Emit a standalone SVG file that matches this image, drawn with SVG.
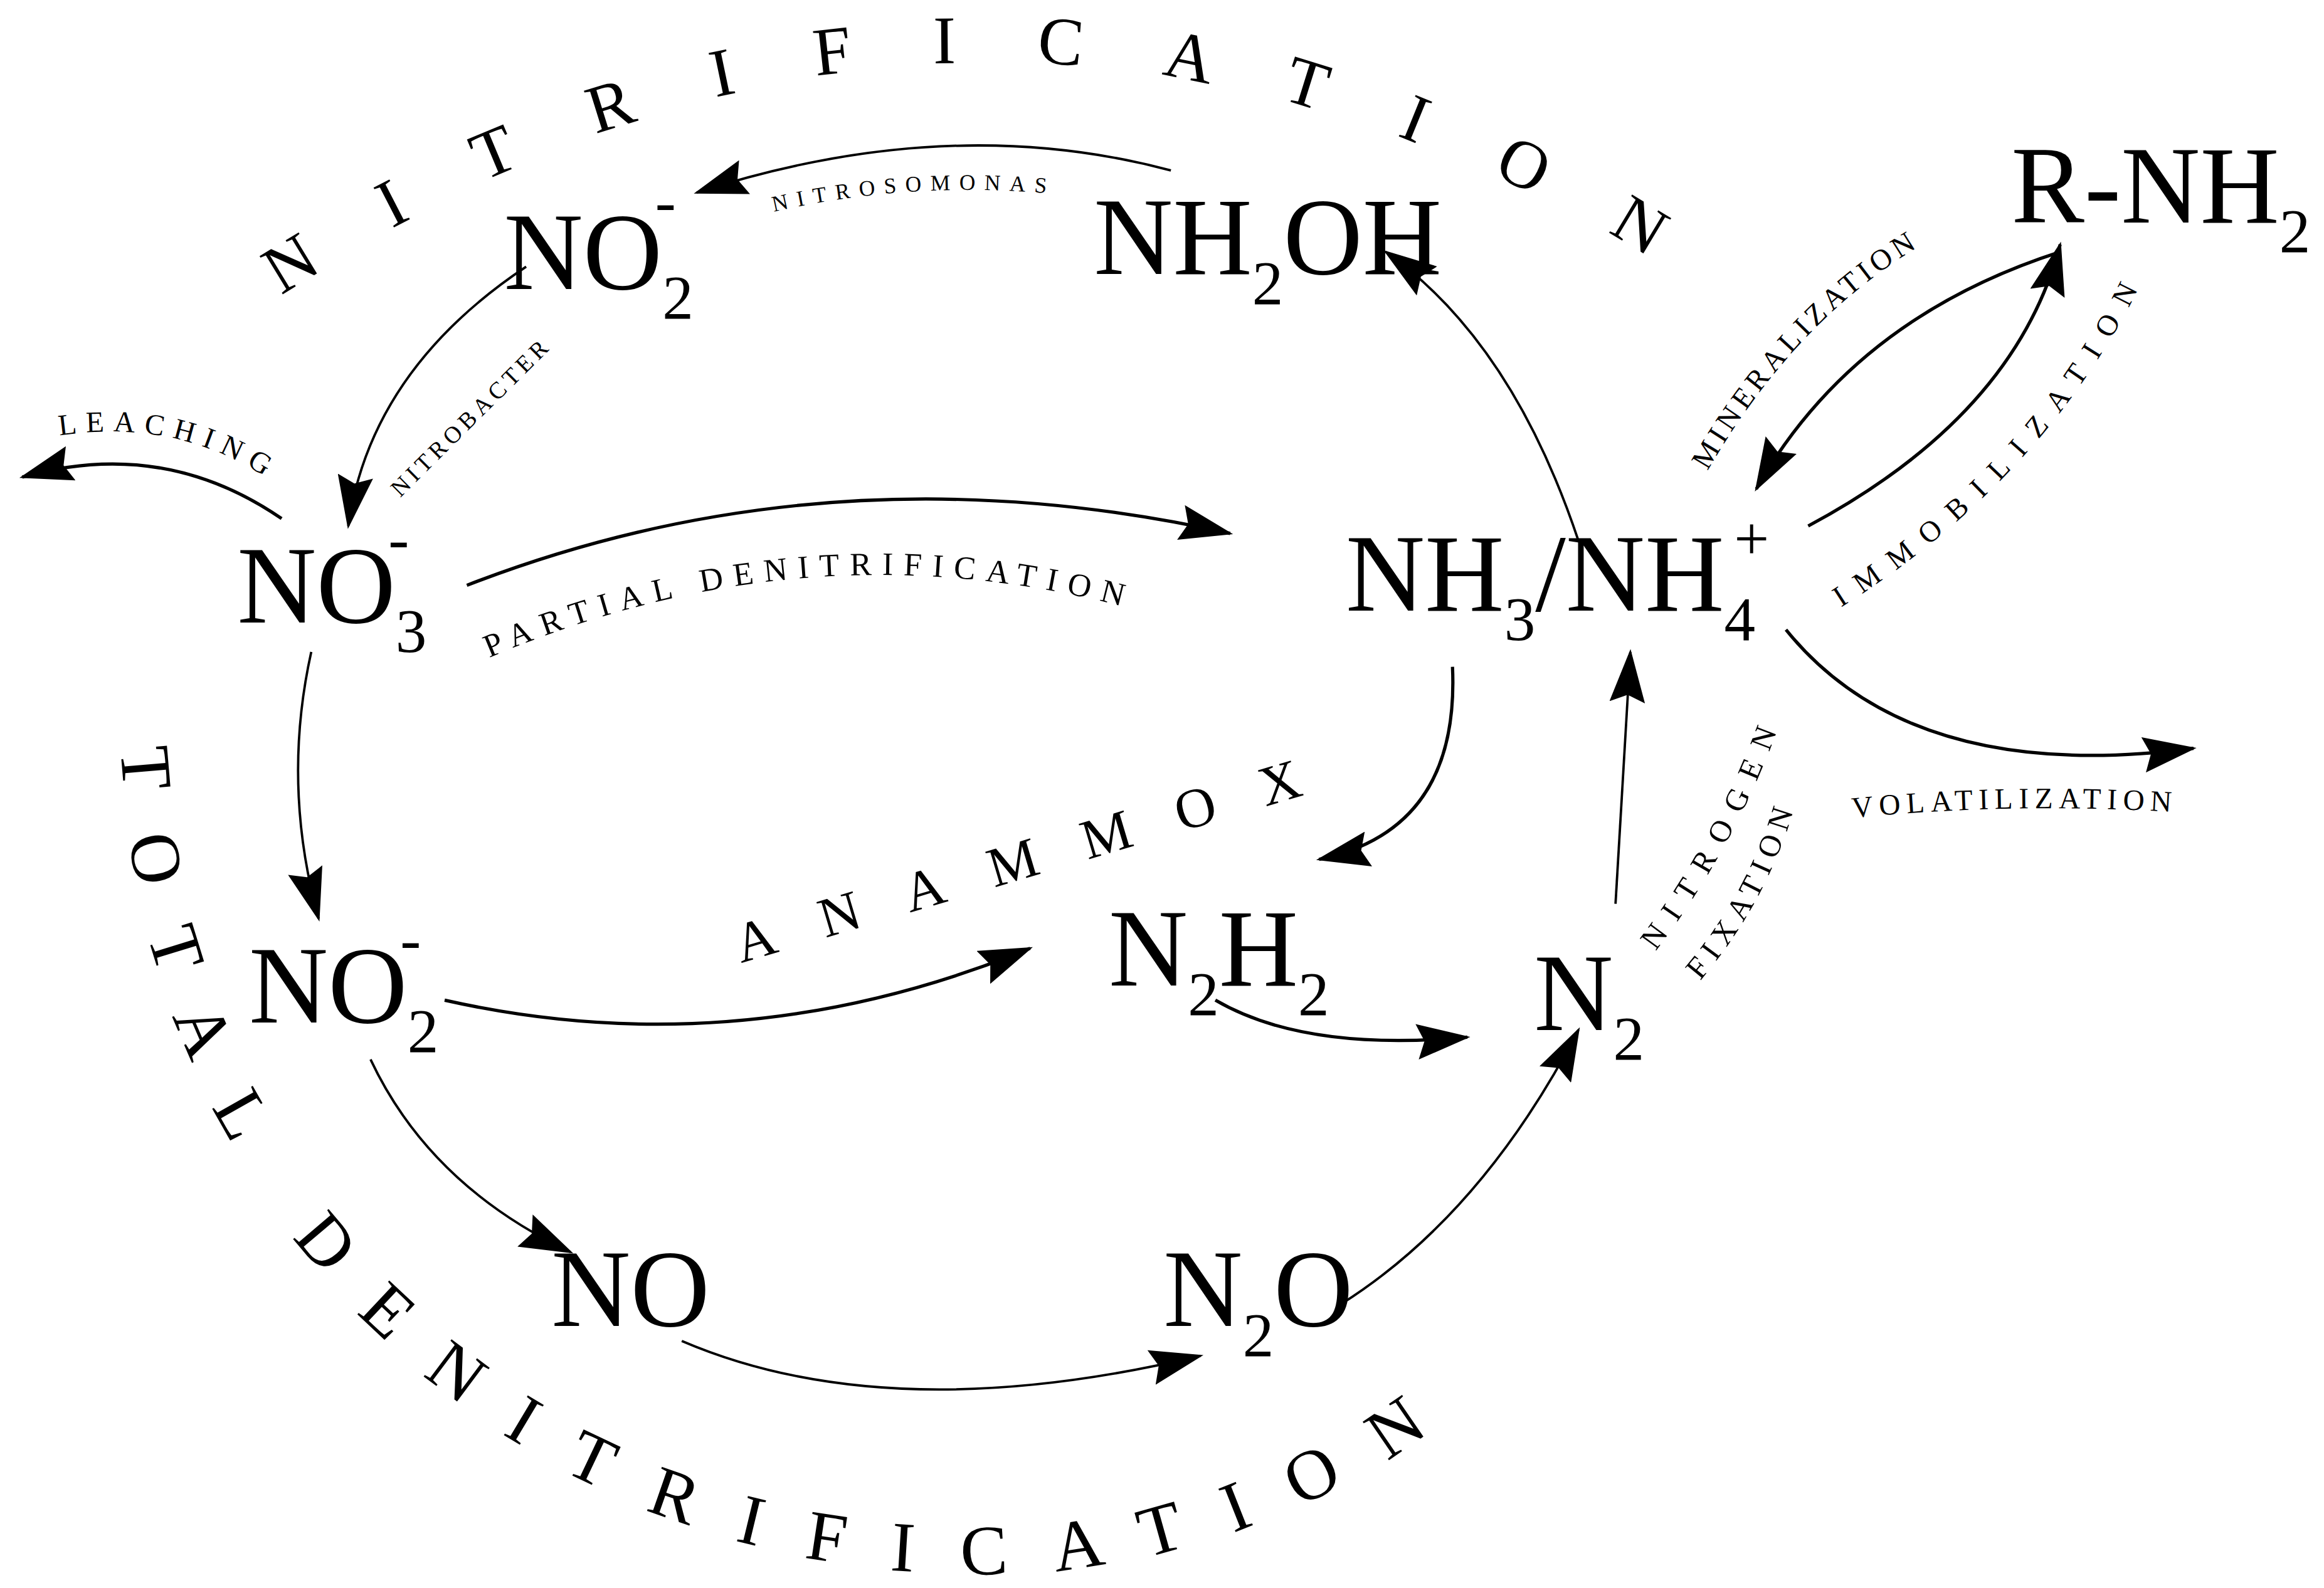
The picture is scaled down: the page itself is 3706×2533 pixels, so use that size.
<svg xmlns="http://www.w3.org/2000/svg" width="3706" height="2533" viewBox="0 0 3706 2533">
<style>
.f{font-family:"Liberation Serif","Times New Roman",serif;fill:#000}
.big{font-size:74px}
.sub{font-size:42px}
.lab{font-size:20px}
.c{fill:none;stroke:#000;stroke-width:1.6}
.ct{fill:none;stroke:#000;stroke-width:2.2}
</style>
<defs>
<marker id="ah" viewBox="0 0 36 24" refX="34" refY="12" markerWidth="36" markerHeight="24" markerUnits="userSpaceOnUse" orient="auto">
<path d="M0,0 L36,12 L0,24 L5,12 Z" fill="#000"/>
</marker>
<path id="pNit" d="M190,200 Q660,-110 1140,190"/>
<path id="pTot" d="M82,505 C92,800 320,1050 640,1062 C800,1068 930,1005 1030,915"/>
<path id="pAna" d="M500,650 L885,535"/>
<path id="pNso" d="M522,143 Q630,118 745,135"/>
<path id="pNbc" d="M270,336 L385,222"/>
<path id="pLea" d="M40,294 Q130,280 200,337"/>
<path id="pPar" d="M330,444 Q550,350 775,414"/>
<path id="pMin" d="M1152,318 Q1220,200 1325,150"/>
<path id="pImm" d="M1242,410 Q1385,320 1450,180"/>
<path id="pNtr" d="M1117,642 Q1180,560 1212,455"/>
<path id="pFix" d="M1147,662 Q1200,600 1217,520"/>
<path id="pVol" d="M1250,552 Q1370,540 1497,550"/>
</defs>
<rect width="3706" height="2533" fill="#fff"/>
<g transform="scale(2.3635)">
<g id="connectors">
<path class="c" d="M790,115 Q640,75 470,130" marker-end="url(#ah)"/>
<path class="c" d="M355,180 Q250,250 235,355" marker-end="url(#ah)"/>
<path class="ct" d="M190,350 Q110,295 15,322" marker-end="url(#ah)"/>
<path class="ct" d="M315,395 Q560,300 830,360" marker-end="url(#ah)"/>
<path class="c" d="M1065,365 Q1020,230 935,170" marker-end="url(#ah)"/>
<path class="ct" d="M1390,170 Q1250,215 1185,330" marker-end="url(#ah)"/>
<path class="ct" d="M1220,355 Q1360,280 1390,165" marker-end="url(#ah)"/>
<path class="ct" d="M1205,425 Q1290,530 1480,505" marker-end="url(#ah)"/>
<path class="ct" d="M980,450 Q985,560 890,580" marker-end="url(#ah)"/>
<path class="c" d="M210,440 Q190,530 215,620" marker-end="url(#ah)"/>
<path class="ct" d="M300,675 Q500,720 695,640" marker-end="url(#ah)"/>
<path class="ct" d="M820,675 Q880,710 990,700" marker-end="url(#ah)"/>
<path class="c" d="M1090,610 Q1095,520 1100,440" marker-end="url(#ah)"/>
<path class="c" d="M250,715 Q290,800 385,845" marker-end="url(#ah)"/>
<path class="c" d="M460,905 Q600,965 810,915" marker-end="url(#ah)"/>
<path class="c" d="M905,880 Q1000,820 1065,695" marker-end="url(#ah)"/>
</g>
<g id="n-no2-top" class="f"><text class="big" x="340" y="195">NO<tspan class="sub" dy="20">2</tspan></text><text class="sub" x="442" y="150">-</text></g>
<g id="n-nh2oh" class="f"><text class="big" x="738" y="185">NH<tspan class="sub" dy="20">2</tspan><tspan dy="-20">OH</tspan></text></g>
<g id="n-rnh2" class="f"><text class="big" x="1357" y="150" font-size="72">R-NH<tspan class="sub" dy="20">2</tspan></text></g>
<g id="n-no3" class="f"><text class="big" x="160" y="420">NO<tspan class="sub" dy="20">3</tspan></text><text class="sub" x="262" y="378">-</text></g>
<g id="n-nh34" class="f"><text class="big" x="908" y="412">NH<tspan class="sub" dy="20">3</tspan><tspan dy="-20">/NH</tspan><tspan class="sub" dy="20">4</tspan></text><text class="sub" x="1170" y="378">+</text></g>
<g id="n-no2-low" class="f"><text class="big" x="168" y="690">NO<tspan class="sub" dy="20">2</tspan></text><text class="sub" x="270" y="648">-</text></g>
<g id="n-n2h2" class="f"><text class="big" x="748" y="665">N<tspan class="sub" dy="20">2</tspan><tspan dy="-20">H</tspan><tspan class="sub" dy="20">2</tspan></text></g>
<g id="n-n2" class="f"><text class="big" x="1035" y="695">N<tspan class="sub" dy="20">2</tspan></text></g>
<g id="n-no" class="f"><text class="big" x="372" y="895">NO</text></g>
<g id="n-n2o" class="f"><text class="big" x="785" y="895">N<tspan class="sub" dy="20">2</tspan><tspan dy="-20">O</tspan></text></g>
<g id="labels" class="f">
<text font-size="46" letter-spacing="54"><textPath href="#pNit">NITRIFICATION</textPath></text>
<text font-size="48" letter-spacing="32"><textPath href="#pTot">TOTAL DENITRIFICATION</textPath></text>
<text font-size="38" letter-spacing="32"><textPath href="#pAna">ANAMMOX</textPath></text>
<text font-size="15" letter-spacing="6"><textPath href="#pNso">NITROSOMONAS</textPath></text>
<text font-size="16" letter-spacing="3"><textPath href="#pNbc">NITROBACTER</textPath></text>
<text class="lab" letter-spacing="6"><textPath href="#pLea">LEACHING</textPath></text>
<text font-size="22" letter-spacing="7"><textPath href="#pPar">PARTIAL DENITRIFICATION</textPath></text>
<text class="lab" letter-spacing="3"><textPath href="#pMin">MINERALIZATION</textPath></text>
<text class="lab" letter-spacing="10"><textPath href="#pImm">IMMOBILIZATION</textPath></text>
<text font-size="21" letter-spacing="9"><textPath href="#pNtr">NITROGEN</textPath></text>
<text font-size="21" letter-spacing="5"><textPath href="#pFix">FIXATION</textPath></text>
<text class="lab" letter-spacing="4"><textPath href="#pVol">VOLATILIZATION</textPath></text>
</g>
</g>
</svg>
